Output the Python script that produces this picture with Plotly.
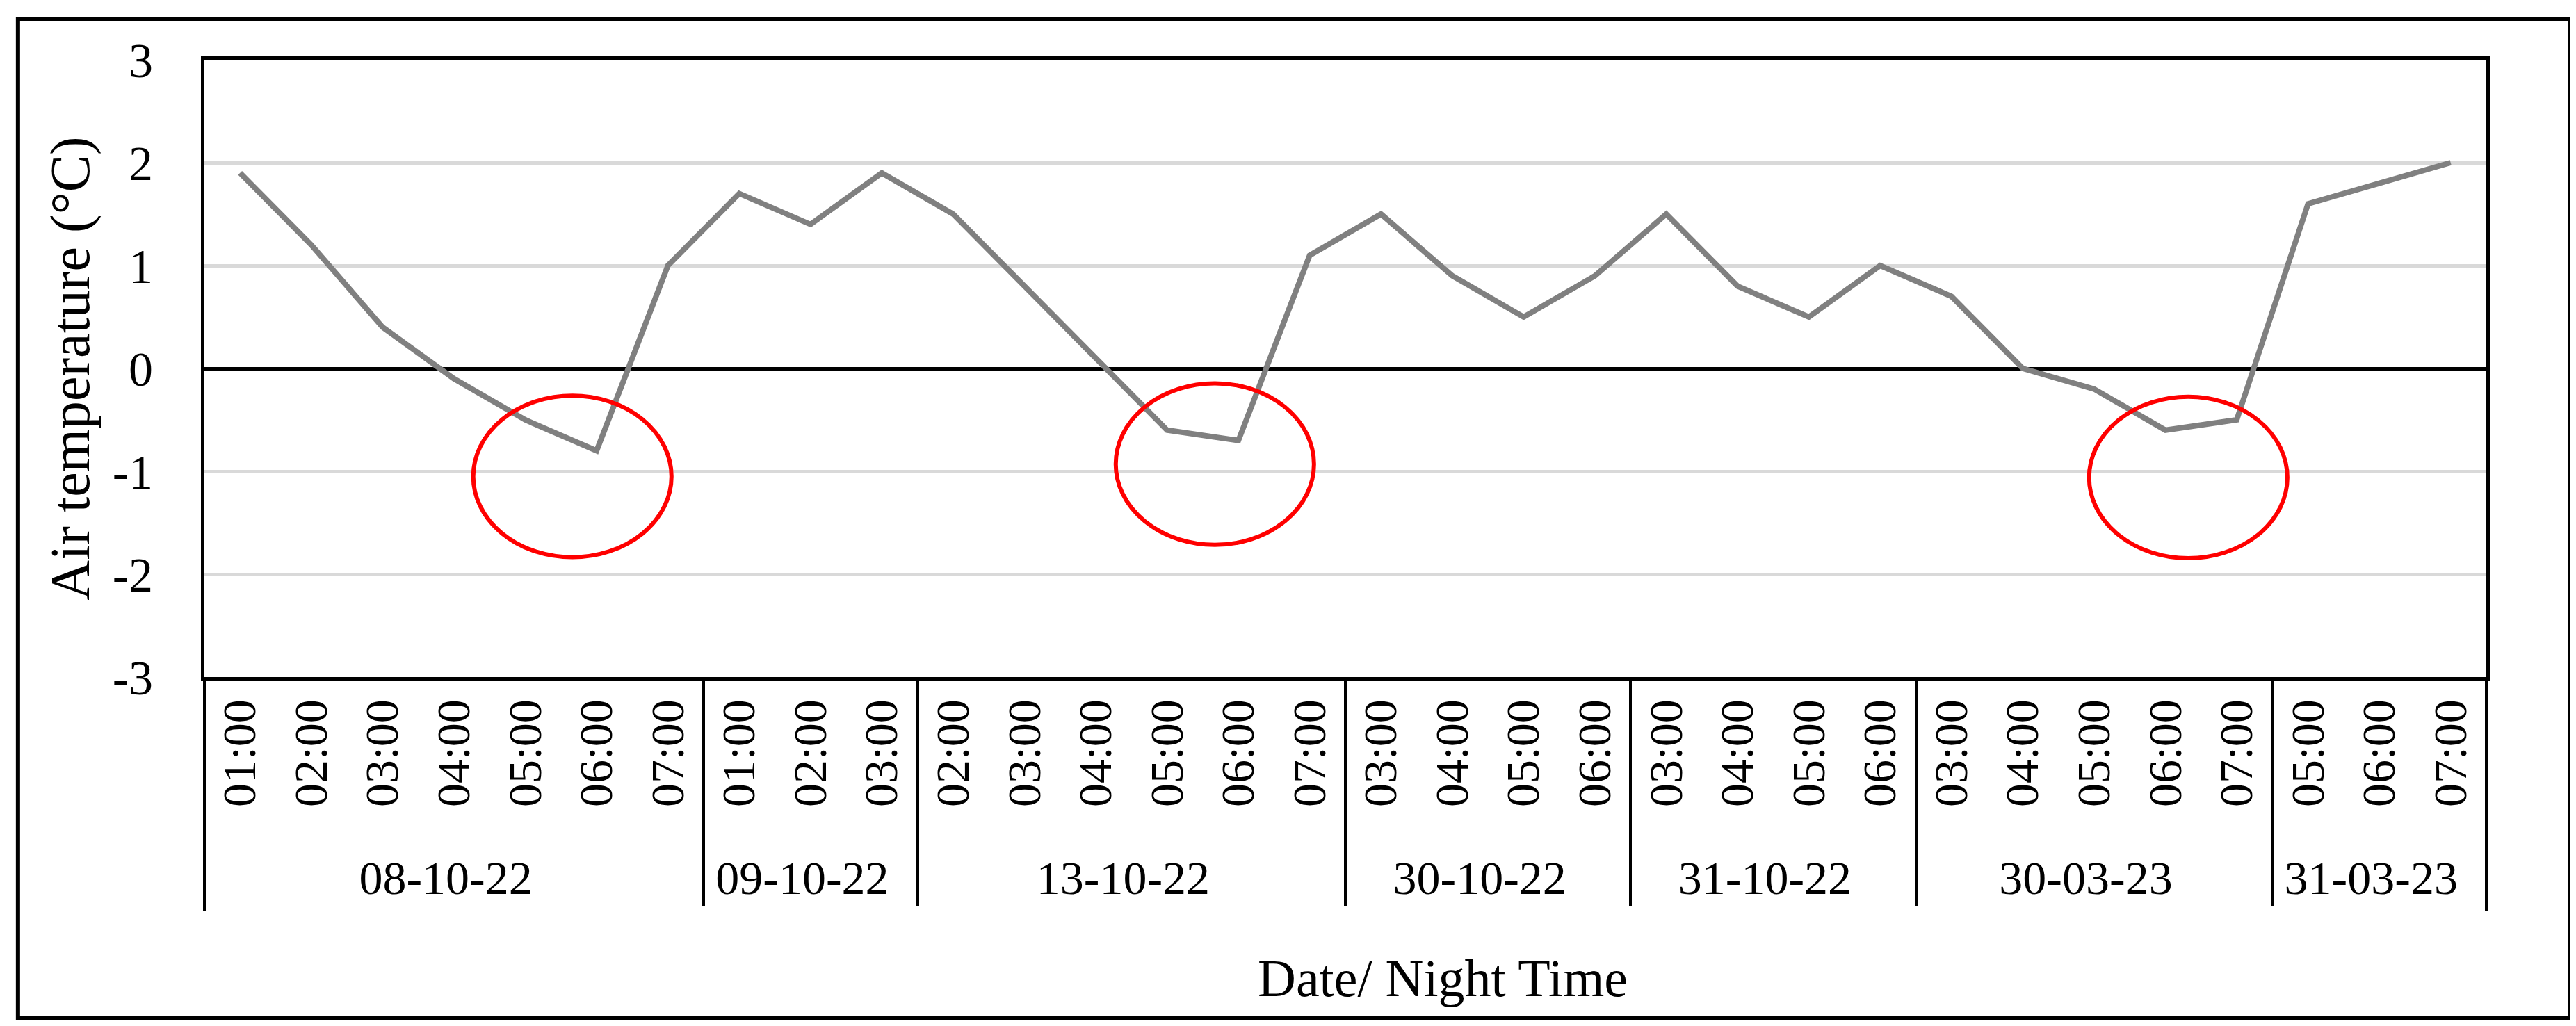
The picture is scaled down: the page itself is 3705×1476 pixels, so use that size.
import plotly.graph_objects as go

# ---- data ----
dates = ["08-10-22", "09-10-22", "13-10-22", "30-10-22", "31-10-22", "30-03-23", "31-03-23"]
hours = [
    ["01:00", "02:00", "03:00", "04:00", "05:00", "06:00", "07:00"],
    ["01:00", "02:00", "03:00"],
    ["02:00", "03:00", "04:00", "05:00", "06:00", "07:00"],
    ["03:00", "04:00", "05:00", "06:00"],
    ["03:00", "04:00", "05:00", "06:00"],
    ["03:00", "04:00", "05:00", "06:00", "07:00"],
    ["05:00", "06:00", "07:00"],
]
temps = [
    1.9, 1.2, 0.4, -0.1, -0.5, -0.8, 1.0,
    1.7, 1.4, 1.9,
    1.5, 0.8, 0.1, -0.6, -0.7, 1.1,
    1.5, 0.9, 0.5, 0.9,
    1.5, 0.8, 0.5, 1.0,
    0.7, 0.0, -0.2, -0.6, -0.5,
    1.6, 1.8, 2.0,
]
y_ticks = [-3, -2, -1, 0, 1, 2, 3]
# highlighted cold spells (category-index centre, temperature centre)
highlight_x = [4.66, 13.67, 27.32]
highlight_y = [-1.05, -0.93, -1.06]

date_level = [d for d, hs in zip(dates, hours) for _ in hs]
hour_level = [h for hs in hours for h in hs]
n_points = len(temps)

FONT = "Liberation Serif"

fig = go.Figure()
fig.add_trace(go.Scatter(
    x=[date_level, hour_level], y=temps, mode="lines",
    line=dict(color="#808080", width=8), showlegend=False,
))

shapes = []
for cx, cy in zip(highlight_x, highlight_y):
    shapes.append(dict(type="circle", xref="x", yref="y",
                       x0=cx - 1.39, x1=cx + 1.39, y0=cy - 0.785, y1=cy + 0.785,
                       line=dict(color="#ff0000", width=6)))
# outer dividers at both ends of the category axis
for px in (0, 1):
    shapes.append(dict(type="line", xref="paper", yref="paper",
                       x0=px, x1=px, y0=0, y1=-0.3795,
                       line=dict(color="black", width=4)))
# outer chart border
shapes.append(dict(type="rect", xref="paper", yref="paper",
                   x0=-0.0817, x1=1.0366, y0=-0.553, y1=1.0665,
                   line=dict(color="black", width=6), layer="below"))

fig.update_layout(
    width=3705, height=1476,
    margin=dict(l=286, r=137, t=78, b=510),
    paper_bgcolor="white", plot_bgcolor="white",
    font=dict(family=FONT, size=70, color="black"),
    shapes=shapes,
    annotations=[dict(text="Date/ Night Time", xref="paper", yref="paper",
                      x=0.5427, y=-0.4876, xanchor="center", yanchor="middle",
                      showarrow=False, font=dict(family=FONT, size=76))],
    xaxis=dict(
        type="multicategory", tickangle=-90, range=[-0.5, n_points - 0.5],
        showline=True, linecolor="black", linewidth=5, mirror=True,
        showgrid=False, ticks="", showdividers=True,
        dividercolor="black", dividerwidth=4,
        tickfont=dict(family=FONT, size=68),
    ),
    yaxis=dict(
        range=[-3, 3], tickvals=y_ticks, ticktext=[str(v) for v in y_ticks],
        showgrid=True, gridcolor="#d9d9d9", gridwidth=5,
        zeroline=True, zerolinecolor="black", zerolinewidth=5,
        showline=True, linecolor="black", linewidth=5, mirror=True,
        ticks="outside", ticklen=55, tickcolor="rgba(0,0,0,0)",
        tickfont=dict(family=FONT, size=70),
        title=dict(text="Air temperature (°C)", font=dict(family=FONT, size=80), standoff=8),
    ),
)

fig.write_html("out.html")
